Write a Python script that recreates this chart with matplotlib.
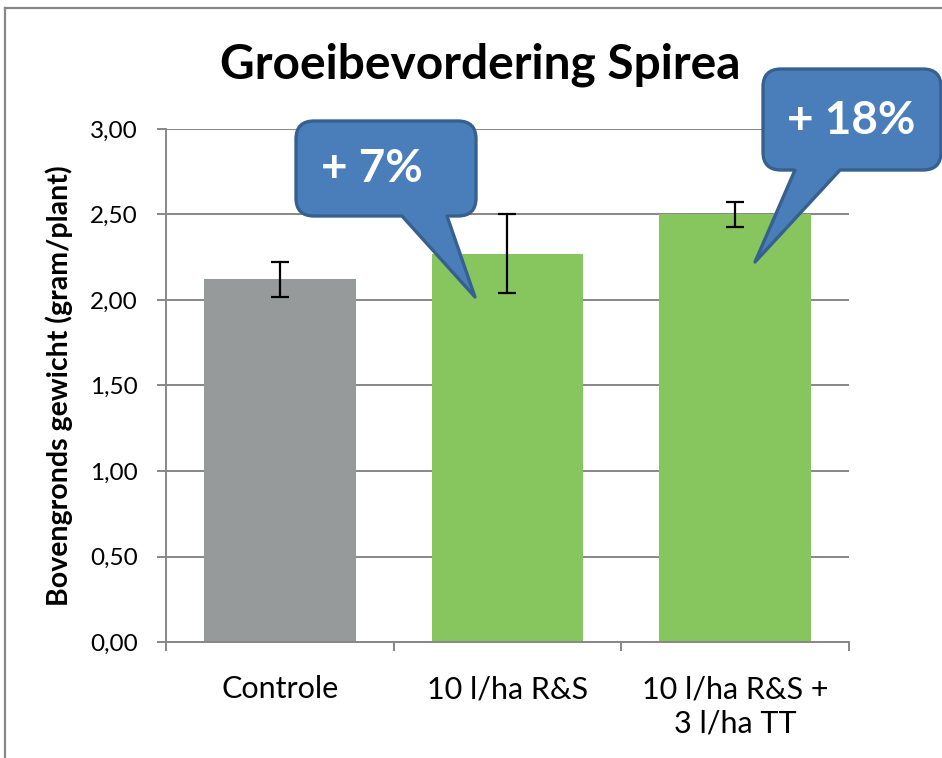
import matplotlib
matplotlib.use("Agg")
import matplotlib.pyplot as plt
from matplotlib.path import Path
from matplotlib.patches import PathPatch
from matplotlib.lines import Line2D
from matplotlib.ticker import FuncFormatter, FixedLocator, NullFormatter

plt.rcParams['font.family'] = ['Lato', 'DejaVu Sans']

categories = ["Controle", "10 l/ha R&S", "10 l/ha R&S +\n3 l/ha TT"]
values = [2.12, 2.27, 2.50]
errors = [0.10, 0.23, 0.075]
bar_colors = ["#979A9A", "#87C65F", "#87C65F"]
callout_texts = ["+ 7%", "+ 18%"]
title = "Groeibevordering Spirea"
ylabel = "Bovengronds gewicht (gram/plant)"

W, H = 942, 758
fig = plt.figure(figsize=(W / 100, H / 100), dpi=100)
ax = fig.add_axes([166 / W, 1 - 642 / H, (849 - 166) / W, (642 - 129) / H])

x = list(range(len(categories)))
ax.bar(x, values, width=0.667, color=bar_colors, zorder=2)
ax.errorbar(x, values, yerr=errors, fmt='none', ecolor='black', elinewidth=1.6,
            capsize=6.5, capthick=1.6, zorder=3)

ax.set_xlim(-0.5, 2.5)
ax.set_ylim(0, 3.0)
ax.set_yticks([0, 0.5, 1.0, 1.5, 2.0, 2.5, 3.0])
ax.yaxis.set_major_formatter(FuncFormatter(lambda v, p: f"{v:.2f}".replace('.', ',')))
ax.yaxis.grid(True, color="#878787", linewidth=1.4, zorder=0)
ax.set_axisbelow(True)

ax.set_xticks(x)
ax.set_xticklabels(categories, fontsize=22, linespacing=1.25)
ax.tick_params(axis='x', which='major', length=0, pad=24)
ax.xaxis.set_minor_locator(FixedLocator([-0.5, 0.5, 1.5, 2.5]))
ax.xaxis.set_minor_formatter(NullFormatter())
ax.tick_params(axis='x', which='minor', length=6.5, width=1.4, color="#878787")
ax.tick_params(axis='y', length=6.5, width=1.4, color="#878787", labelsize=17.5, pad=14)

for s in ['top', 'right']:
    ax.spines[s].set_visible(False)
for s in ['left', 'bottom']:
    ax.spines[s].set_color("#878787")
    ax.spines[s].set_linewidth(1.4)

ax.set_ylabel(ylabel, fontsize=20.5, fontweight='bold', labelpad=12)

# outer frame
fig.add_artist(Line2D([5 / W, 1.0], [1 - 8 / H, 1 - 8 / H], color="#878787", lw=1.6,
                      transform=fig.transFigure))
fig.add_artist(Line2D([5 / W, 5 / W], [1 - 8 / H, 0.0], color="#878787", lw=1.6,
                      transform=fig.transFigure))

fig.text(480 / W, 1 - 65 / H, title, ha='center', va='center', fontsize=34.5,
         fontweight='bold')


def callout(L, T, R, B, bx1, bx2, tip, r, text, tx, ty, fs):
    def p(px, py):
        return (px / W, 1 - py / H)
    verts = [p(L + r, T), p(R - r, T), p(R, T), p(R, T + r), p(R, B - r), p(R, B), p(R - r, B),
             p(bx2, B), p(*tip), p(bx1, B), p(L + r, B), p(L, B), p(L, B - r), p(L, T + r),
             p(L, T), p(L + r, T), p(L + r, T)]
    codes = [Path.MOVETO, Path.LINETO, Path.CURVE3, Path.CURVE3, Path.LINETO, Path.CURVE3,
             Path.CURVE3, Path.LINETO, Path.LINETO, Path.LINETO, Path.LINETO, Path.CURVE3,
             Path.CURVE3, Path.LINETO, Path.CURVE3, Path.CURVE3, Path.CLOSEPOLY]
    patch = PathPatch(Path(verts, codes), facecolor="#4A7EBB", edgecolor="#36618F",
                      linewidth=2.4, joinstyle='round', transform=fig.transFigure, zorder=10)
    fig.add_artist(patch)
    fig.text(tx / W, 1 - ty / H, text, ha='center', va='center', fontsize=fs,
             fontweight='bold', color='white', zorder=11)


callout(296, 121, 476, 216, 402, 447, (475, 297), 18, callout_texts[0], 372, 169, 33)
callout(763, 69, 941, 170, 795, 840, (755, 262), 18, callout_texts[1], 851, 121, 33)

fig.savefig("out.png", dpi=100, facecolor='white')
